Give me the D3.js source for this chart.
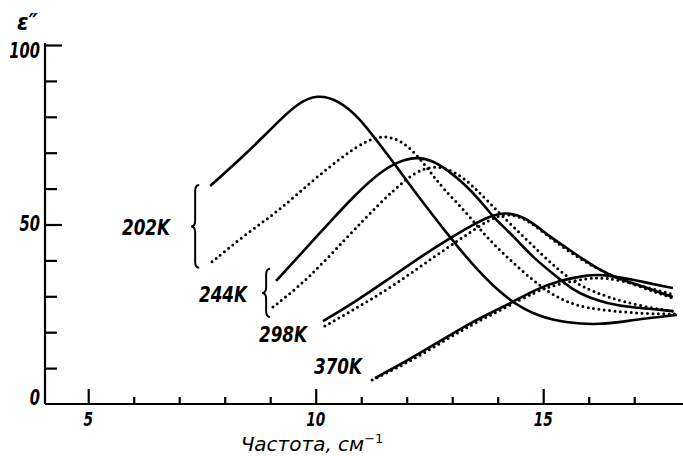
<!DOCTYPE html>
<html>
<head>
<meta charset="utf-8">
<script src="https://cdn.jsdelivr.net/npm/d3@7/dist/d3.min.js"></script>
<style>
  body { margin: 0; background: #fff; }
  svg { display: block; }
  text { font-family: 'DejaVu Sans', sans-serif; font-style: italic; fill: #000; }
</style>
</head>
<body>
<svg id="chart" width="683" height="456"></svg>
<script>
// frequency (cm^-1) and eps''
var s202x = [7.68, 8.49, 9.21, 9.59, 10.03, 10.5, 10.95, 11.4, 11.7, 12.14, 12.51, 12.89, 13.54, 14.27, 14.93, 15.52, 16.25, 16.97, 17.94];
var s202y = [60.7, 69.9, 79.1, 83.6, 86.3, 84.6, 79.9, 72.4, 67.4, 59.8, 53.6, 47.4, 37.3, 28.4, 24.2, 22.6, 22.0, 23.4, 24.8];
var d202x = [7.72, 8.49, 9.21, 9.94, 10.69, 11.13, 11.48, 11.85, 12.2, 12.51, 12.8, 13.32, 13.68, 13.98, 14.34, 14.77, 15.15, 15.52, 15.96, 16.53, 17.24, 17.94];
var d202y = [39.6, 47.6, 54.0, 62.4, 69.9, 73.4, 74.8, 73.6, 69.8, 64.8, 60.0, 53.2, 47.6, 43.7, 39.3, 34.5, 30.9, 28.4, 26.7, 25.9, 25.1, 25.1];
var s244x = [9.13, 9.65, 10.31, 10.86, 11.41, 11.85, 12.25, 12.6, 12.89, 13.24, 13.61, 13.9, 14.2, 14.49, 14.77, 15.3, 15.65, 16.03, 16.4, 16.84, 17.85];
var s244y = [34.3, 41.5, 50.7, 58.2, 64.6, 67.8, 68.9, 67.6, 65.2, 61.6, 56.8, 52.1, 48.5, 44.8, 40.9, 35.4, 31.8, 29.5, 28.1, 27.0, 25.9];
var d244x = [9.06, 9.81, 10.69, 11.41, 12.01, 12.36, 12.73, 13.1, 13.45, 13.8, 14.2, 14.6, 14.95, 15.3, 15.6, 15.87, 16.4, 17.12, 17.94];
var d244y = [27.0, 34.5, 46.5, 56.0, 63.0, 65.6, 66.3, 64.4, 60.8, 56.3, 51.1, 46.2, 41.9, 37.8, 34.8, 32.6, 29.8, 27.3, 25.6];
var s298x = [10.16, 10.82, 11.57, 12.29, 12.95, 13.39, 13.83, 14.2, 14.64, 15.15, 15.52, 15.87, 16.25, 16.62, 16.97, 17.85];
var s298y = [23.1, 28.1, 34.5, 40.9, 46.2, 49.5, 52.4, 53.5, 51.9, 46.5, 43.5, 40.3, 37.3, 35.1, 33.7, 29.8];
var d298x = [10.2, 10.82, 11.57, 12.29, 12.89, 13.39, 13.83, 14.2, 14.64, 15.15, 15.87, 16.62, 17.85];
var d298y = [21.7, 26.2, 31.8, 38.2, 43.5, 47.8, 51.5, 53.2, 51.6, 46.2, 39.8, 34.8, 29.5];
var s370x = [11.3, 11.92, 12.67, 13.39, 14.12, 14.86, 15.3, 15.96, 16.4, 16.97, 17.85];
var s370y = [7.2, 11.4, 17.0, 22.6, 27.0, 32.1, 34.2, 36.0, 36.0, 34.6, 32.3];
var d370x = [11.24, 11.92, 12.67, 13.39, 14.12, 14.86, 15.3, 15.96, 16.4, 16.97, 17.85];
var d370y = [6.7, 10.8, 16.4, 21.9, 26.5, 31.5, 33.3, 35.1, 35.2, 33.6, 30.5];

var xTicks = [5, 6, 7, 8, 9, 10, 11, 12, 13, 14, 15, 16, 17];
var xLabels = [5, 10, 15];
var yTicks = [10, 20, 30, 40, 50, 60, 70, 80, 90, 100];
var yLabels = [0, 50, 100];
var temps = ['202K', '244K', '298K', '370K'];

var svg = d3.select('#chart');
var x = d3.scaleLinear().domain([4.05, 18]).range([45, 679.7]);
var y = d3.scaleLinear().domain([0, 100]).range([404, 45]);

function zip(xs, ys) {
    var pts = [];
    for (var i=0; i<xs.length; i++) {
        pts.push([xs[i], ys[i]]);
    }
    return pts;
}

function label(txt, px, py, size, anchor, sx) {
    return svg.append('text')
        .attr('transform', 'translate(' + px + ',' + py + ') scale(' + sx + ',1)')
        .attr('text-anchor', anchor)
        .style('font-size', size + 'px')
        .text(txt);
}

// axes
var xAxis = svg.append('g')
    .attr('transform', 'translate(0,' + y(0) + ')')
    .call(d3.axisBottom(x).tickValues(xTicks).tickSize(-7).tickSizeOuter(0).tickFormat(''));
xAxis.selectAll('.tick line')
    .attr('y2', function(d) { return xLabels.indexOf(d) >= 0 ? -15 : -7; });
xAxis.select('.domain').attr('d', 'M' + x(4.05) + ',0H683');

var yAxis = svg.append('g')
    .attr('transform', 'translate(' + x(4.05) + ',0)')
    .call(d3.axisLeft(y).tickValues(yTicks).tickSize(-12).tickSizeOuter(0).tickFormat(''));
yAxis.selectAll('.tick line')
    .attr('x2', function(d) { return yLabels.indexOf(d) >= 0 ? 17 : 12; });
yAxis.select('.domain').attr('d', 'M0,' + y(0) + 'V' + (y(100) - 2));

svg.selectAll('.domain, .tick line')
    .attr('stroke', '#000')
    .attr('stroke-width', 2.2);

xLabels.forEach(function(v) {
    label(v, x(v), 426, 19, 'middle', 0.72).style('font-weight', 'bold');
});
var yOff = {0: 1, 50: 6, 100: 13};
yLabels.forEach(function(v) {
    label(v, 40, y(v) + yOff[v], 21, 'end', 0.7).style('font-weight', 'bold');
});

label('ε″', 17, 30, 23, 'start', 0.9).style('font-weight', 'bold');
var xt = label('Частота, см', 312, 451, 20, 'middle', 1);
xt.append('tspan').attr('dy', -8).style('font-size', '13px').style('font-style', 'normal').text('−1');

// curves
var line = d3.line()
    .x(function(d) { return x(d[0]); })
    .y(function(d) { return y(d[1]); })
    .curve(d3.curveBasis);

var solids = [zip(s202x, s202y), zip(s244x, s244y), zip(s298x, s298y), zip(s370x, s370y)];
var dotted = [zip(d202x, d202y), zip(d244x, d244y), zip(d298x, d298y), zip(d370x, d370y)];

svg.selectAll('path.solid')
    .data(solids)
    .enter()
    .append('path')
    .attr('class', 'solid')
    .attr('d', line)
    .attr('fill', 'none')
    .attr('stroke', '#000')
    .attr('stroke-width', 2.6);

svg.selectAll('path.dotted')
    .data(dotted)
    .enter()
    .append('path')
    .attr('class', 'dotted')
    .attr('d', line)
    .attr('fill', 'none')
    .attr('stroke', '#000')
    .attr('stroke-width', 3)
    .attr('stroke-linecap', 'round')
    .attr('stroke-dasharray', '0,5.4');

// braces for the two lowest temperatures
function brace(px, y1, y2) {
    var w = 8, r = 6, ym = (y1 + y2) / 2, xm = px + w / 2;
    var p = 'M' + (px + w) + ',' + y1 +
        'Q' + xm + ',' + y1 + ' ' + xm + ',' + (y1 + r) +
        'L' + xm + ',' + (ym - r) +
        'Q' + xm + ',' + ym + ' ' + px + ',' + ym +
        'Q' + xm + ',' + ym + ' ' + xm + ',' + (ym + r) +
        'L' + xm + ',' + (y2 - r) +
        'Q' + xm + ',' + y2 + ' ' + (px + w) + ',' + y2;
    svg.append('path')
        .attr('d', p)
        .attr('fill', 'none')
        .attr('stroke', '#000')
        .attr('stroke-width', 2);
}
brace(x(s202x[0]) - 19, y(s202y[0]) - 1, y(d202y[0]) + 6);
brace(x(s244x[0]) - 14, y(s244y[0]) - 12, y(d244y[0]) + 10);

label(temps[0], 122, 235, 21, 'start', 0.8).style('font-weight', 'bold');
label(temps[1], 199, 302, 21, 'start', 0.8).style('font-weight', 'bold');
label(temps[2], 259, 342, 21, 'start', 0.8).style('font-weight', 'bold');
label(temps[3], 314, 374, 21, 'start', 0.8).style('font-weight', 'bold');
</script>
</body>
</html>
